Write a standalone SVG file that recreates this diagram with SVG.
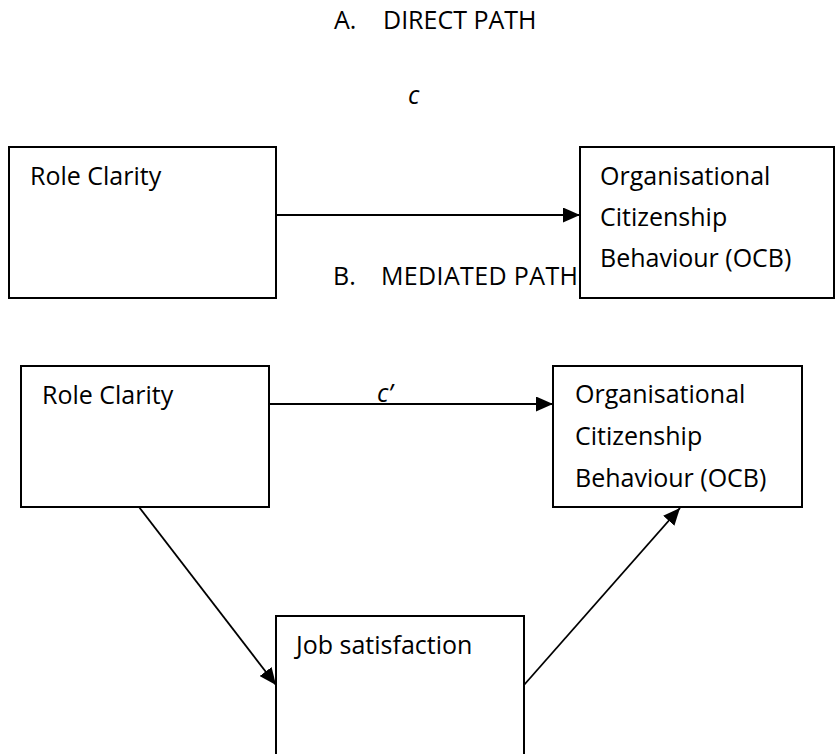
<svg xmlns="http://www.w3.org/2000/svg" width="836" height="754" viewBox="0 0 836 754">
  <style>
    text { font-family: "Open Sans", "Liberation Sans", sans-serif; font-size: 25px; fill: #000; }
    .coef { font-style: italic; }
    .box { fill: #fff; stroke: #000; stroke-width: 2; }
    .edge { fill: none; stroke: #000; stroke-width: 1.8; marker-end: url(#head); }
  </style>
  <defs>
    <marker id="head" markerUnits="userSpaceOnUse" markerWidth="17" markerHeight="15" refX="17" refY="7.5" orient="auto">
      <path d="M0,0 L17,7.5 L0,15 Z" fill="#000"/>
    </marker>
  </defs>

  <rect width="836" height="754" fill="#fff"/>

  <!-- section headings -->
  <g id="heading-a">
    <text x="334" y="29">A.</text>
    <text x="383" y="29">DIRECT PATH</text>
  </g>
  <g id="heading-b">
    <text x="333" y="285">B.</text>
    <text x="381" y="285" textLength="197" lengthAdjust="spacing">MEDIATED PATH</text>
  </g>

  <!-- connectors -->
  <g id="connectors">
    <line class="edge" x1="276" y1="215" x2="580" y2="215"/>
    <line class="edge" x1="269" y1="404" x2="553" y2="404"/>
    <line class="edge" x1="139" y1="507" x2="276" y2="685"/>
    <line class="edge" x1="524" y1="685" x2="680" y2="508"/>
  </g>

  <!-- path coefficients -->
  <g id="label-c"><text class="coef" x="408" y="104">c</text></g>
  <g id="label-c-prime"><text class="coef" x="377" y="402">c’</text></g>

  <!-- A: direct path -->
  <g id="role-clarity-a">
    <rect class="box" x="9" y="147" width="267" height="151"/>
    <text x="30" y="185">Role Clarity</text>
  </g>
  <g id="ocb-a">
    <rect class="box" x="580" y="147" width="254" height="151"/>
    <text x="600" y="185">Organisational</text>
    <text x="600" y="226">Citizenship</text>
    <text x="600" y="267">Behaviour (OCB)</text>
  </g>

  <!-- B: mediated path -->
  <g id="role-clarity-b">
    <rect class="box" x="21" y="366" width="248" height="141"/>
    <text x="42" y="404">Role Clarity</text>
  </g>
  <g id="ocb-b">
    <rect class="box" x="553" y="366" width="249" height="141"/>
    <text x="575" y="403">Organisational</text>
    <text x="575" y="445">Citizenship</text>
    <text x="575" y="487">Behaviour (OCB)</text>
  </g>
  <g id="job-satisfaction">
    <rect class="box" x="276" y="616" width="248" height="150"/>
    <text x="296" y="654">Job satisfaction</text>
  </g>
</svg>
